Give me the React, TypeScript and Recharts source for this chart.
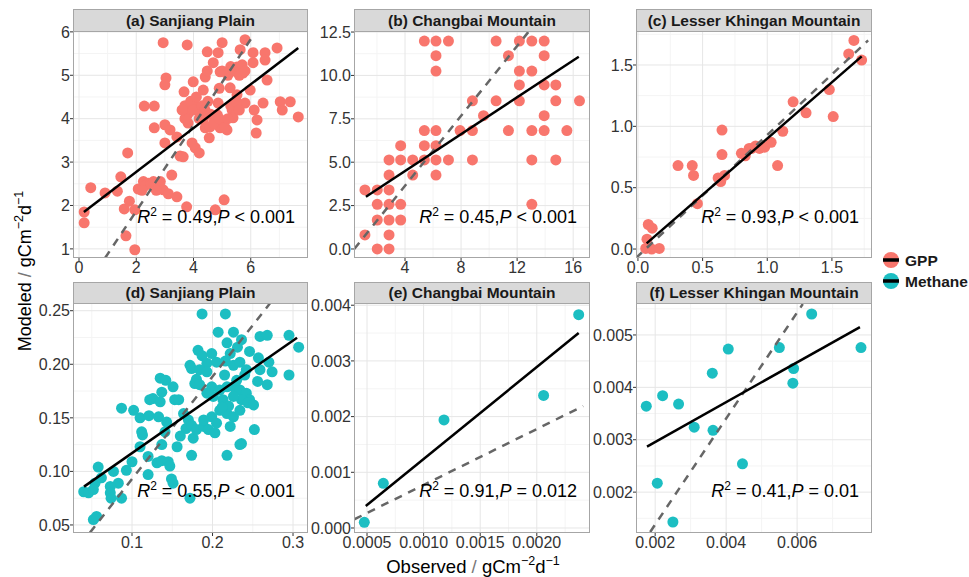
import React from "react";
import { ScatterChart, Scatter, XAxis, YAxis, CartesianGrid } from "recharts";

type Pt = [number, number];

const FONT = '"Liberation Sans", Arial, Helvetica, sans-serif';
const GPP_COLOR = "#F8766D";
const CH4_COLOR = "#1CBEC2";

const gppSanjiang: Pt[] = [
  [2.94, 5.75], [3.78, 5.7], [0.18, 1.85], [0.18, 1.6], [0.41, 2.41], [0.91, 2.29], [1.34, 2.33], [1.46, 2.66],
  [1.7, 3.21], [1.58, 1.92], [1.76, 2.1], [1.64, 1.3], [1.95, 0.98], [1.95, 1.9], [2.28, 4.29], [2.63, 4.29],
  [2.63, 3.79], [2.07, 2.38], [2.25, 2.55], [2.42, 2.51], [2.66, 2.4], [2.84, 2.55], [2.94, 2.36], [3.12, 2.27],
  [3.0, 3.86], [3.18, 3.74], [3.0, 3.44], [3.04, 4.94], [3.0, 4.78], [3.24, 2.7], [3.42, 3.58], [3.53, 3.14],
  [3.42, 2.2], [3.76, 1.97], [3.64, 3.12], [3.67, 4.62], [3.99, 4.85], [3.81, 4.25], [3.81, 3.9], [3.95, 3.44],
  [4.06, 3.33], [4.2, 3.21], [3.99, 4.39], [4.16, 4.27], [4.23, 4.13], [4.34, 4.66], [4.41, 4.96], [4.48, 5.1],
  [4.34, 3.97], [4.41, 3.79], [4.58, 3.81], [4.55, 3.56], [4.69, 5.29], [4.48, 5.54], [4.86, 5.52], [5.0, 5.75],
  [4.93, 5.08], [4.86, 4.36], [4.83, 4.09], [4.93, 3.79], [5.03, 3.9], [5.17, 3.74], [5.28, 4.71], [5.35, 4.2],
  [5.38, 5.12], [5.38, 4.02], [5.52, 5.19], [5.52, 4.55], [5.63, 5.59], [5.8, 5.82], [5.7, 5.24], [5.73, 5.05],
  [5.8, 4.36], [5.98, 4.66], [6.08, 5.52], [6.08, 5.29], [6.12, 4.2], [6.22, 3.97], [6.19, 3.67], [6.43, 4.36],
  [6.5, 5.52], [6.5, 5.35], [6.57, 4.89], [6.92, 5.63], [7.03, 4.39], [7.1, 4.2], [7.38, 4.39], [7.66, 4.04],
  [4.76, 1.9], [5.07, 2.13], [3.7, 4.3], [3.8, 4.1], [3.9, 4.4], [4.0, 4.2], [4.1, 4.5], [4.2, 4.0],
  [4.3, 4.3], [3.7, 4.0], [3.6, 4.2], [4.4, 4.2], [4.5, 4.4], [4.6, 4.1], [4.7, 3.9], [4.9, 4.0],
  [5.1, 3.8], [5.2, 4.0], [5.3, 4.3], [5.5, 4.4], [5.6, 4.2], [5.2, 5.0], [5.4, 5.1], [5.6, 5.0],
  [5.8, 5.1], [5.3, 5.2], [5.0, 5.1], [4.9, 4.7], [2.3, 2.45], [2.5, 2.5], [2.6, 2.55], [2.8, 2.5],
  [2.7, 2.35], [2.2, 2.35],
];

const gppChangbai: Pt[] = [
  [5.38, 11.98], [6.21, 11.98], [7.1, 11.98], [10.5, 11.98], [12.16, 11.98], [13.05, 11.98], [13.93, 11.98],
  [6.21, 11.14], [11.38, 11.14], [13.93, 11.14],
  [6.21, 10.25], [12.16, 10.25], [13.05, 10.25],
  [12.16, 9.45], [13.93, 9.45], [14.76, 9.45],
  [8.81, 8.54], [10.5, 8.54], [12.16, 8.54], [14.76, 8.54], [16.45, 8.54],
  [9.6, 7.68], [13.93, 7.68],
  [5.38, 6.82], [6.21, 6.82], [7.93, 6.82], [8.81, 6.82], [11.38, 6.82], [13.05, 6.82], [13.93, 6.82], [15.55, 6.82],
  [3.69, 5.95], [5.38, 5.95], [6.21, 5.95],
  [2.86, 5.13], [3.69, 5.13], [4.55, 5.13], [5.38, 5.13], [6.21, 5.13], [7.1, 5.13], [8.81, 5.13], [13.05, 5.13], [14.76, 5.13],
  [2.86, 4.26], [4.55, 4.26], [6.21, 4.26],
  [1.14, 3.4], [2.02, 3.4], [2.86, 3.4],
  [2.02, 2.57], [2.86, 2.57], [3.69, 2.57], [13.05, 2.57],
  [2.02, 1.67], [2.86, 1.67], [3.69, 1.67],
  [1.14, 0.81], [2.86, 0.81],
  [2.02, 0.0], [2.86, 0.0],
];

const gppKhingan: Pt[] = [
  [0.08, 0.2], [0.11, 0.17], [0.07, 0.08], [0.06, 0.005], [0.106, 0.0], [0.165, 0.005], [0.31, 0.68], [0.42, 0.68],
  [0.43, 0.6], [0.46, 0.37], [0.65, 0.97], [0.65, 0.77], [0.64, 0.55], [0.67, 0.6], [0.83, 0.76], [0.86, 0.82],
  [0.94, 0.82], [0.98, 0.83], [1.03, 0.87], [1.08, 0.68], [1.12, 0.96], [1.2, 1.2], [1.3, 1.11], [1.48, 1.3],
  [1.51, 1.08], [1.63, 1.59], [1.67, 1.7], [1.73, 1.54], [0.88, 0.82], [0.91, 0.84], [0.8, 0.78], [0.62, 0.58],
];

const ch4Sanjiang: Pt[] = [
  [0.187, 0.247], [0.216, 0.247], [0.207, 0.23], [0.226, 0.23], [0.236, 0.223], [0.259, 0.226], [0.268, 0.227],
  [0.295, 0.227], [0.307, 0.216], [0.295, 0.19], [0.182, 0.213], [0.187, 0.208], [0.199, 0.21], [0.218, 0.22],
  [0.222, 0.21], [0.231, 0.216], [0.246, 0.212], [0.172, 0.199], [0.193, 0.201], [0.205, 0.202], [0.216, 0.203],
  [0.226, 0.199], [0.234, 0.202], [0.242, 0.195], [0.257, 0.206], [0.27, 0.202], [0.259, 0.195], [0.274, 0.193],
  [0.268, 0.181], [0.256, 0.184], [0.135, 0.187], [0.142, 0.185], [0.137, 0.174], [0.151, 0.179], [0.18, 0.186],
  [0.178, 0.182], [0.184, 0.181], [0.199, 0.179], [0.209, 0.176], [0.218, 0.179], [0.226, 0.179], [0.234, 0.176],
  [0.242, 0.173], [0.246, 0.167], [0.236, 0.167], [0.226, 0.17], [0.213, 0.167], [0.201, 0.17], [0.193, 0.173],
  [0.126, 0.168], [0.135, 0.165], [0.153, 0.167], [0.158, 0.167], [0.087, 0.159], [0.102, 0.157], [0.11, 0.15],
  [0.112, 0.137], [0.113, 0.134], [0.121, 0.152], [0.133, 0.151], [0.143, 0.146], [0.141, 0.137], [0.137, 0.125],
  [0.164, 0.154], [0.17, 0.148], [0.167, 0.14], [0.174, 0.143], [0.16, 0.133], [0.156, 0.123], [0.176, 0.131],
  [0.18, 0.139], [0.189, 0.142], [0.195, 0.139], [0.203, 0.136], [0.199, 0.151], [0.209, 0.157], [0.218, 0.154],
  [0.226, 0.151], [0.234, 0.157], [0.222, 0.142], [0.244, 0.164], [0.252, 0.139], [0.236, 0.126], [0.234, 0.125],
  [0.218, 0.115], [0.251, 0.162], [0.22, 0.161], [0.189, 0.148], [0.174, 0.196], [0.184, 0.195], [0.193, 0.193],
  [0.122, 0.167], [0.11, 0.123], [0.12, 0.114], [0.131, 0.108], [0.137, 0.11], [0.145, 0.109], [0.147, 0.105],
  [0.149, 0.093], [0.1, 0.109], [0.093, 0.101], [0.077, 0.1], [0.083, 0.089], [0.073, 0.086], [0.058, 0.104],
  [0.054, 0.089], [0.062, 0.094], [0.04, 0.081], [0.046, 0.08], [0.052, 0.083], [0.073, 0.08], [0.074, 0.075],
  [0.087, 0.075], [0.12, 0.097], [0.151, 0.089], [0.172, 0.075], [0.052, 0.055], [0.056, 0.058], [0.174, 0.115],
  [0.205, 0.145], [0.212, 0.16], [0.23, 0.185], [0.24, 0.19], [0.215, 0.19],
];

const ch4Changbai: Pt[] = [
  [0.000476, 0.000102], [0.000644, 0.000802], [0.00118, 0.00194], [0.00206, 0.00238], [0.00237, 0.00383],
];

const ch4Khingan: Pt[] = [
  [0.00175, 0.00364], [0.00221, 0.00384], [0.00266, 0.00368], [0.00206, 0.00217], [0.0025, 0.00143],
  [0.0031, 0.00324], [0.00363, 0.00318], [0.00361, 0.00427], [0.00406, 0.00473], [0.00446, 0.00254],
  [0.0055, 0.00476], [0.0059, 0.00436], [0.00588, 0.00408], [0.00641, 0.0054], [0.0078, 0.00476],
];

// fitted regression lines and dashed reference lines (end points)
const fitLines: Pt[][] = [
  [[0.17, 1.85], [7.66, 5.63]],
  [[1.21, 3.01], [16.4, 11.08]],
  [[0.067, 0.046], [1.73, 1.57]],
  [[0.0404, 0.0858], [0.305, 0.2248]],
  [[0.000489, 0.000395], [0.00237, 0.0035]],
  [[0.00177, 0.00287], [0.00777, 0.00515]],
];
const refLines: Pt[][] = [
  [[0.91, 0.79], [6.0, 5.83]],
  [[0.38, 0.0], [12.88, 12.58]],
  [[-0.015, -0.073], [1.78, 1.7]],
  [[0.0478, 0.0429], [0.2714, 0.2569]],
  [[0.000388, 0.000156], [0.00241, 0.00219]],
  [[0.00186, 0.00124], [0.00616, 0.00559]],
];

const titles = [
  "(a) Sanjiang Plain", "(b) Changbai Mountain", "(c) Lesser Khingan Mountain",
  "(d) Sanjiang Plain", "(e) Changbai Mountain", "(f) Lesser Khingan Mountain",
];
const r2Values = ["0.49", "0.45", "0.93", "0.55", "0.91", "0.41"];
const pValues = ["< 0.001", "< 0.001", "< 0.001", "< 0.001", "= 0.012", "= 0.01"];

const xTicks = [
  [0, 2, 4, 6], [4, 8, 12, 16], [0, 0.5, 1, 1.5],
  [0.1, 0.2, 0.3], [0.0005, 0.001, 0.0015, 0.002], [0.002, 0.004, 0.006],
];
const yTicks = [
  [1, 2, 3, 4, 5, 6], [0, 2.5, 5, 7.5, 10, 12.5], [0, 0.5, 1, 1.5],
  [0.05, 0.1, 0.15, 0.2, 0.25], [0, 0.001, 0.002, 0.003, 0.004], [0.002, 0.003, 0.004, 0.005],
];
const xMinor = [
  [1, 3, 5, 7], [2, 6, 10, 14], [0.25, 0.75, 1.25, 1.75],
  [0.05, 0.15, 0.25], [0.00075, 0.00125, 0.00175, 0.00225], [0.003, 0.005, 0.007],
];
const yMinor = [
  [1.5, 2.5, 3.5, 4.5, 5.5], [1.25, 3.75, 6.25, 8.75, 11.25], [0.25, 0.75, 1.25, 1.75],
  [0.075, 0.125, 0.175, 0.225], [0.0005, 0.0015, 0.0025, 0.0035], [0.0015, 0.0025, 0.0035, 0.0045, 0.0055],
];
const xDecimals = [0, 0, 1, 1, 4, 3];
const yDecimals = [0, 1, 1, 2, 3, 3];

const xDomains: Pt[] = [[-0.21, 8.0], [0.36, 17.2], [-0.015, 1.81], [0.0267, 0.3186], [0.000385, 0.00247], [0.00146, 0.00811]];
const yDomains: Pt[] = [[0.79, 6.02], [-0.52, 12.56], [-0.073, 1.777], [0.0425, 0.2572], [-0.00009, 0.00404], [0.00122, 0.00561]];

const series = [gppSanjiang, gppChangbai, gppKhingan, ch4Sanjiang, ch4Changbai, ch4Khingan];

// layout
const COLS = [[73, 308], [354, 590], [636, 872]];
const ROWS = [[31, 258], [303, 533]];
const STRIP_TOP = [9, 282];
const ML = 60, MT = 14, MR = 5, MB = 30;

const toObj = (arr: Pt[]) => arr.map(([x, y]) => ({ x, y }));
const NoShape = () => <g />;

function Panel({ i }: { i: number }) {
  const col = i % 3, row = Math.floor(i / 3);
  const [left, right] = COLS[col];
  const [top, bottom] = ROWS[row];
  const w = right - left, h = bottom - top;
  const color = row === 0 ? GPP_COLOR : CH4_COLOR;
  const tickStyle = { fill: "#333", fontSize: 16, fontFamily: FONT };
  return (
    <div style={{ position: "absolute", left: left - ML, top: top - MT }}>
      <ScatterChart width={w + ML + MR} height={h + MT + MB} margin={{ top: MT, right: MR, bottom: 0, left: 0 }}>
        <CartesianGrid verticalValues={xMinor[i]} horizontalValues={yMinor[i]} stroke="#F4F4F4" strokeWidth={1} />
        <CartesianGrid verticalValues={xTicks[i]} horizontalValues={yTicks[i]} stroke="#E6E6E6" strokeWidth={1} />
        <XAxis type="number" dataKey="x" domain={xDomains[i]} ticks={xTicks[i]} allowDataOverflow interval={0}
          tickFormatter={(v: number) => v.toFixed(xDecimals[i])} height={MB} axisLine={false}
          tickSize={3} tickMargin={1} tickLine={{ stroke: "#333" }} tick={tickStyle} />
        <YAxis type="number" dataKey="y" domain={yDomains[i]} ticks={yTicks[i]} allowDataOverflow interval={0}
          tickFormatter={(v: number) => v.toFixed(yDecimals[i])} width={ML} axisLine={false}
          tickSize={3} tickMargin={0} tickLine={{ stroke: "#333" }} tick={tickStyle} />
        <Scatter data={toObj(series[i])} fill={color} isAnimationActive={false}
          shape={(p: any) => <circle cx={p.cx} cy={p.cy} r={5.5} fill={color} />} />
        <Scatter data={toObj(refLines[i])} fill="#666" isAnimationActive={false} shape={NoShape}
          line={{ stroke: "#666", strokeWidth: 2.5, strokeDasharray: "8 7" }} />
        <Scatter data={toObj(fitLines[i])} fill="#000" isAnimationActive={false} shape={NoShape}
          line={{ stroke: "#000", strokeWidth: 2.5 }} />
      </ScatterChart>
    </div>
  );
}

function Overlay() {
  return (
    <svg width={969} height={577} style={{ position: "absolute", left: 0, top: 0, pointerEvents: "none" }} fontFamily={FONT}>
      {titles.map((t, i) => {
        const col = i % 3, row = Math.floor(i / 3);
        const [left, right] = COLS[col];
        const [top, bottom] = ROWS[row];
        const st = STRIP_TOP[row];
        return (
          <g key={i}>
            <rect x={left + 0.5} y={st + 0.5} width={right - left - 1} height={top - st} fill="#D9D9D9" stroke="#A6A6A6" />
            <text x={(left + right) / 2} y={(st + top) / 2 + 5.5} textAnchor="middle" fontSize={15.5} fontWeight="bold" fill="#1A1A1A">{t}</text>
            <rect x={left + 0.5} y={top + 0.5} width={right - left - 1} height={bottom - top - 1} fill="none" stroke="#A6A6A6" />
            <text x={right - 13} y={row === 0 ? 223 : 497} textAnchor="end" fontSize={18} fill="#000">
              <tspan fontStyle="italic">R</tspan>
              <tspan dy={-7} fontSize={12}>2</tspan>
              <tspan dy={7}>{` = ${r2Values[i]},`}</tspan>
              <tspan fontStyle="italic">P</tspan>
              <tspan>{` ${pValues[i]}`}</tspan>
            </text>
          </g>
        );
      })}
      <text transform="translate(31,271) rotate(-90)" textAnchor="middle" fontSize={18} fill="#000">
        Modeled<tspan fill="#777"> / </tspan>gCm<tspan dy={-8} fontSize={12.5}>−2</tspan><tspan dy={8}>d</tspan><tspan dy={-8} fontSize={12.5}>−1</tspan>
      </text>
      <text x={473} y={573} textAnchor="middle" fontSize={18.5} fill="#000">
        Observed<tspan fill="#777"> / </tspan>gCm<tspan dy={-8} fontSize={12.5}>−2</tspan><tspan dy={8}>d</tspan><tspan dy={-8} fontSize={12.5}>−1</tspan>
      </text>
      {[["GPP", GPP_COLOR, 260], ["Methane", CH4_COLOR, 281]].map(([label, c, y]) => (
        <g key={label as string}>
          <circle cx={891} cy={y as number} r={8} fill={c as string} />
          <line x1={883} x2={899} y1={y as number} y2={y as number} stroke="#000" strokeWidth={3.5} />
          <text x={905} y={(y as number) + 5.5} fontSize={15.5} fontWeight="bold" fill="#1A1A1A">{label}</text>
        </g>
      ))}
    </svg>
  );
}

export default function App() {
  return (
    <div style={{ position: "absolute", left: 0, top: 0, width: 969, height: 577, background: "#fff", fontFamily: FONT }}>
      {[0, 1, 2, 3, 4, 5].map((i) => <Panel key={i} i={i} />)}
      <Overlay />
    </div>
  );
}
